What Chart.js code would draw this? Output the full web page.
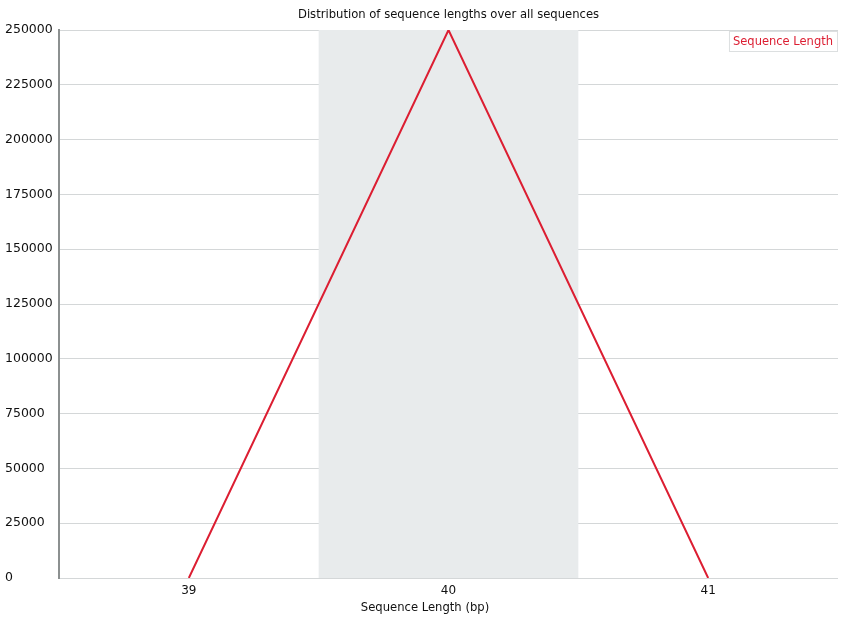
<!DOCTYPE html>
<html>
<head>
<meta charset="utf-8">
<script src="https://cdn.jsdelivr.net/npm/chart.js@4/dist/chart.umd.min.js"></script>
<style>
  html, body { margin: 0; padding: 0; background: #fff; }
  #wrap { width: 842px; height: 621px; }
</style>
</head>
<body>
<div id="wrap"><canvas id="c" width="842" height="621"></canvas></div>
<script>
// Sequence length distribution
const lengths = ['39', '40', '41'];
const counts = [0, 250000, 0];
const seriesName = 'Sequence Length';
const chartTitle = 'Distribution of sequence lengths over all sequences';
const xTitle = 'Sequence Length (bp)';

const FONT = '"DejaVu Sans", sans-serif';
const LINE_RED = '#dc1e32';

// Shade every other category column, behind the data
const bandPlugin = {
  id: 'bands',
  beforeDatasetsDraw(chart) {
    const { ctx, chartArea, scales } = chart;
    const x = scales.x;
    const n = x.ticks.length;
    const step = n > 1 ? x.getPixelForValue(1) - x.getPixelForValue(0) : chartArea.width;
    ctx.save();
    ctx.fillStyle = '#e8ebec';
    for (let i = 1; i < n; i += 2) {
      const c = x.getPixelForValue(i);
      ctx.fillRect(c - step / 2, chartArea.top, step, chartArea.bottom - chartArea.top);
    }
    ctx.restore();
  }
};

// Title, axis caption and a boxed legend label
const textPlugin = {
  id: 'texts',
  afterDraw(chart) {
    const { ctx, chartArea } = chart;
    ctx.save();
    ctx.fillStyle = '#111';
    ctx.font = '11.6px ' + FONT;
    ctx.textAlign = 'center';
    ctx.textBaseline = 'middle';
    ctx.fillText(chartTitle, (chartArea.left + chartArea.right) / 2, 15);
    ctx.fillText(xTitle, 425, 608);

    ctx.font = '11.5px ' + FONT;
    const w = ctx.measureText(seriesName).width + 9;
    const bx = chartArea.right - w, by = chartArea.top + 1, bh = 21;
    ctx.fillStyle = '#fff';
    ctx.fillRect(bx, by, w, bh);
    ctx.strokeStyle = '#dcdfe0';
    ctx.lineWidth = 1;
    ctx.strokeRect(bx + 0.5, by + 0.5, w - 1, bh - 1);
    ctx.fillStyle = LINE_RED;
    ctx.textAlign = 'left';
    ctx.fillText(seriesName, bx + 4, by + bh / 2 + 1);
    ctx.restore();
  }
};

new Chart(document.getElementById('c'), {
  type: 'line',
  data: {
    labels: lengths,
    datasets: [{
      label: seriesName,
      data: counts,
      borderColor: LINE_RED,
      borderWidth: 2,
      pointRadius: 0,
      tension: 0,
      fill: false
    }]
  },
  options: {
    responsive: false,
    animation: false,
    layout: { padding: { top: 30, right: 4, bottom: 0, left: 5 } },
    plugins: {
      legend: { display: false },
      title: { display: false },
      tooltip: { enabled: false }
    },
    scales: {
      x: {
        type: 'category',
        offset: true,
        grid: { display: false, drawTicks: false },
        border: { display: false },
        ticks: { color: '#111', font: { family: FONT, size: 12 }, padding: 6, maxRotation: 0 },
        afterFit(s) { s.height = 43; }
      },
      y: {
        min: 0,
        max: 250000,
        grid: { color: '#d4d7d8', lineWidth: 1, drawTicks: false },
        border: { display: true, color: '#8c9090', width: 2 },
        ticks: {
          stepSize: 25000,
          color: '#111',
          font: { family: FONT, size: 12.5 },
          crossAlign: 'far',
          padding: 6,
          callback: (v) => String(v)
        },
        afterFit(s) { s.width = 54; }
      }
    }
  },
  plugins: [bandPlugin, textPlugin]
});
</script>
</body>
</html>
